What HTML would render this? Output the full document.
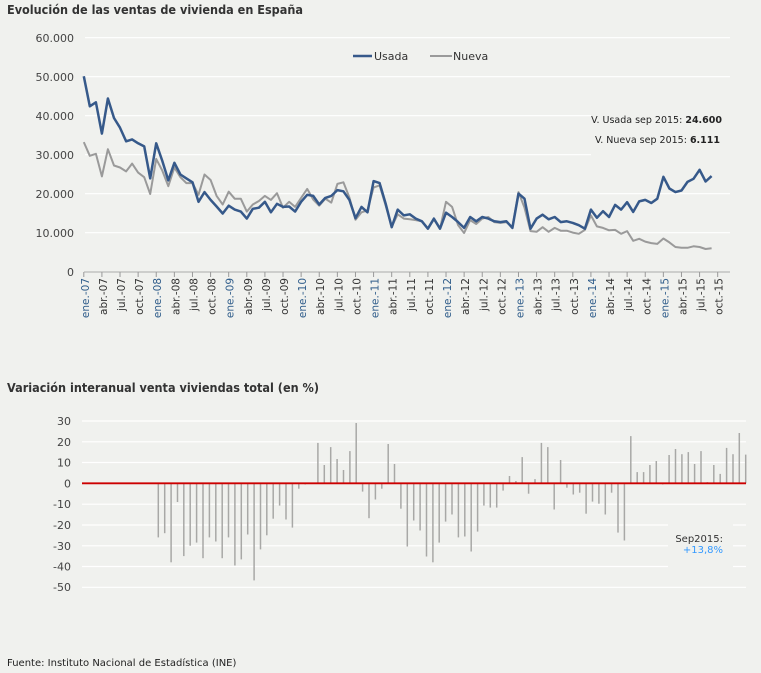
<!DOCTYPE html>
<html><head><meta charset="utf-8"><style>
html,body{margin:0;padding:0;background:#f0f1ee;}
svg{display:block;font-family:"DejaVu Sans","Liberation Sans",sans-serif;}
</style></head><body>
<svg id="s" width="761" height="673" viewBox="0 0 761 673" xmlns="http://www.w3.org/2000/svg">
<rect width="761" height="673" fill="#f0f1ee"/>
<text x="7" y="14" font-size="12" font-weight="bold" fill="#333" textLength="296" lengthAdjust="spacingAndGlyphs">Evolución de las ventas de vivienda en España</text>
<g stroke="#fff" stroke-width="1.2">
<line x1="85" y1="37.7" x2="730" y2="37.7"/>
<line x1="85" y1="76.7" x2="730" y2="76.7"/>
<line x1="85" y1="115.7" x2="591" y2="115.7"/>
<line x1="85" y1="154.7" x2="591" y2="154.7"/>
<line x1="85" y1="193.7" x2="730" y2="193.7"/>
<line x1="85" y1="232.7" x2="730" y2="232.7"/>
</g>
<line x1="84" y1="272" x2="730" y2="272" stroke="#aaa" stroke-width="1"/>
<g font-size="11" fill="#444" text-anchor="end">
<text x="74" y="42">60.000</text><text x="74" y="81">50.000</text><text x="74" y="120">40.000</text>
<text x="74" y="159">30.000</text><text x="74" y="198">20.000</text><text x="74" y="237">10.000</text><text x="74" y="276">0</text>
</g>
<g id="ticks" stroke="#999" stroke-width="1"></g>
<g id="tl" font-size="10.5" text-anchor="end" fill="#333">
<text transform="translate(88.8,278) rotate(-90)" fill="#2e5c8a">ene.-07</text>
<text transform="translate(106.9,278) rotate(-90)">abr.-07</text>
<text transform="translate(125.0,278) rotate(-90)">jul.-07</text>
<text transform="translate(143.1,278) rotate(-90)">oct.-07</text>
<text transform="translate(161.2,278) rotate(-90)" fill="#2e5c8a">ene.-08</text>
<text transform="translate(179.3,278) rotate(-90)">abr.-08</text>
<text transform="translate(197.4,278) rotate(-90)">jul.-08</text>
<text transform="translate(215.6,278) rotate(-90)">oct.-08</text>
<text transform="translate(233.7,278) rotate(-90)" fill="#2e5c8a">ene.-09</text>
<text transform="translate(251.8,278) rotate(-90)">abr.-09</text>
<text transform="translate(269.9,278) rotate(-90)">jul.-09</text>
<text transform="translate(288.0,278) rotate(-90)">oct.-09</text>
<text transform="translate(306.1,278) rotate(-90)" fill="#2e5c8a">ene.-10</text>
<text transform="translate(324.2,278) rotate(-90)">abr.-10</text>
<text transform="translate(342.4,278) rotate(-90)">jul.-10</text>
<text transform="translate(360.5,278) rotate(-90)">oct.-10</text>
<text transform="translate(378.6,278) rotate(-90)" fill="#2e5c8a">ene.-11</text>
<text transform="translate(396.7,278) rotate(-90)">abr.-11</text>
<text transform="translate(414.8,278) rotate(-90)">jul.-11</text>
<text transform="translate(432.9,278) rotate(-90)">oct.-11</text>
<text transform="translate(451.0,278) rotate(-90)" fill="#2e5c8a">ene.-12</text>
<text transform="translate(469.1,278) rotate(-90)">abr.-12</text>
<text transform="translate(487.3,278) rotate(-90)">jul.-12</text>
<text transform="translate(505.4,278) rotate(-90)">oct.-12</text>
<text transform="translate(523.5,278) rotate(-90)" fill="#2e5c8a">ene.-13</text>
<text transform="translate(541.6,278) rotate(-90)">abr.-13</text>
<text transform="translate(559.7,278) rotate(-90)">jul.-13</text>
<text transform="translate(577.8,278) rotate(-90)">oct.-13</text>
<text transform="translate(595.9,278) rotate(-90)" fill="#2e5c8a">ene.-14</text>
<text transform="translate(614.1,278) rotate(-90)">abr.-14</text>
<text transform="translate(632.2,278) rotate(-90)">jul.-14</text>
<text transform="translate(650.3,278) rotate(-90)">oct.-14</text>
<text transform="translate(668.4,278) rotate(-90)" fill="#2e5c8a">ene.-15</text>
<text transform="translate(686.5,278) rotate(-90)">abr.-15</text>
<text transform="translate(704.6,278) rotate(-90)">jul.-15</text>
<text transform="translate(722.7,278) rotate(-90)">oct.-15</text>
</g>
<polyline id="nueva" fill="none" stroke="#9a9a9a" stroke-width="2" stroke-linejoin="round"/>
<polyline id="usada" fill="none" stroke="#36598a" stroke-width="2.5" stroke-linejoin="round"/>
<line x1="353" y1="56" x2="372" y2="56" stroke="#36598a" stroke-width="2.5"/>
<text x="374" y="60" font-size="11" fill="#333">Usada</text>
<line x1="430" y1="56" x2="452" y2="56" stroke="#9a9a9a" stroke-width="2"/>
<text x="453" y="60" font-size="11" fill="#333">Nueva</text>
<text x="722" y="123" font-size="9.5" fill="#222" text-anchor="end">V. Usada sep 2015: <tspan font-weight="bold">24.600</tspan></text>
<text x="720" y="143" font-size="9.5" fill="#222" text-anchor="end">V. Nueva sep 2015: <tspan font-weight="bold">6.111</tspan></text>

<text x="7" y="392" font-size="12" font-weight="bold" fill="#333" textLength="312" lengthAdjust="spacingAndGlyphs">Variación interanual venta viviendas total (en %)</text>
<g stroke="#fff" stroke-width="1.2">
<line x1="82" y1="421" x2="746" y2="421"/>
<line x1="82" y1="441.8" x2="746" y2="441.8"/>
<line x1="82" y1="462.5" x2="746" y2="462.5"/>
<line x1="82" y1="504.2" x2="746" y2="504.2"/>
<line x1="82" y1="525" x2="668" y2="525"/><line x1="733" y1="525" x2="746" y2="525"/>
<line x1="82" y1="545.8" x2="668" y2="545.8"/><line x1="733" y1="545.8" x2="746" y2="545.8"/>
<line x1="82" y1="566.5" x2="668" y2="566.5"/><line x1="733" y1="566.5" x2="746" y2="566.5"/>
<line x1="82" y1="587.3" x2="746" y2="587.3"/>
</g>
<g font-size="11" fill="#444" text-anchor="end">
<text x="71" y="425">30</text><text x="71" y="446">20</text><text x="71" y="466.5">10</text><text x="71" y="487.5">0</text>
<text x="71" y="508">-10</text><text x="71" y="529">-20</text><text x="71" y="550">-30</text><text x="71" y="570.5">-40</text><text x="71" y="591">-50</text>
</g>
<g id="bars" stroke="#a8a8a6" stroke-width="1.5"></g>
<line x1="82" y1="483.3" x2="746" y2="483.3" stroke="#cc0000" stroke-width="1.8"/>
<text x="723" y="542" font-size="10" fill="#333" text-anchor="end">Sep2015:</text>
<text x="723" y="553" font-size="10" fill="#3399ff" text-anchor="end">+13,8%</text>
<text x="7" y="666" font-size="10" fill="#222">Fuente: Instituto Nacional de Estadística (INE)</text>
</svg>
<script>
var U=[50.2,42.5,43.5,35.5,44.5,39.5,37,33.5,34,33,32.2,24,33,28.5,23.5,28,25,24,23,18,20.5,18.5,16.8,15,17,16,15.5,13.7,16.2,16.5,18,15.3,17.5,16.7,16.8,15.5,18,19.8,19.5,17.3,19,19.5,21,20.7,18.5,13.8,16.7,15.3,23.3,22.8,17.5,11.5,16,14.5,14.8,13.7,13,11.1,13.7,11.1,15.2,14.1,12.8,11.3,14.1,13,14.1,13.7,13,12.8,13,11.3,20.1,18.8,11.1,13.7,14.7,13.5,14.1,12.8,13,12.6,12,11.1,16,13.9,15.6,14.1,17.2,16,17.9,15.4,18.1,18.5,17.7,18.8,24.4,21.4,20.5,20.9,23.1,23.9,26.2,23.2,24.6];
var N=[33.3,29.8,30.3,24.5,31.5,27.3,26.8,25.8,27.8,25.5,24.3,20,29,26,22,26.8,24.3,22.8,22.8,19.8,25,23.6,19.5,17.3,20.6,18.8,18.8,15.5,17.3,18.2,19.5,18.5,20.2,16.5,18,16.7,19,21.3,18.6,17,18.8,17.8,22.6,23,19.1,13.4,15.3,15.8,21.7,22.2,17,11.6,14.8,13.7,13.5,13.3,13,11.1,13.5,11.1,18,16.7,12,10,13.3,12.3,13.7,14.1,12.8,12.6,12.8,11.5,20.5,16.5,10.5,10.3,11.5,10.3,11.3,10.6,10.6,10.1,9.8,10.8,14.5,11.7,11.3,10.7,10.8,9.8,10.5,8,8.5,7.8,7.4,7.2,8.6,7.6,6.4,6.2,6.2,6.6,6.4,5.9,6.111];
function pts(a){return a.map(function(v,i){return (83.8+i*6.037).toFixed(1)+","+(272-v*3.9).toFixed(1)}).join(" ");}
document.getElementById("usada").setAttribute("points",pts(U));
document.getElementById("nueva").setAttribute("points",pts(N));
var t=document.getElementById("ticks"),h="";
for(var m=0;m<=105;m+=3){var x=83.8+m*6.037;h+='<line x1="'+x+'" y1="272" x2="'+x+'" y2="277"/>';}
t.innerHTML=h;
var B=[-26,-24,-38,-9,-35,-30,-28.5,-36,-26,-28,-36,-26,-39.5,-36.6,-24.6,-46.7,-31.8,-25,-17,-10.7,-17.4,-21.3,-2.6,-0.6,0,19.4,8.8,17.4,11.7,6.4,15.5,29,-4,-16.8,-7.8,-2.6,18.9,9.3,-12.2,-30.4,-17.9,-22.7,-35.2,-38,-28.5,-18.4,-15,-26,-25.6,-32.8,-23.2,-10.7,-11.7,-11.7,-3.5,3.5,1.1,12.6,-5,2,19.4,17.4,-12.6,11.2,-2.1,-5.4,-4.5,-14.6,-8.8,-9.8,-15,-4.5,-23.7,-27.5,22.7,5.4,5.4,8.8,10.7,-0.6,13.6,16.5,14,15,9.3,15.5,0.6,8.8,4.5,17,14,24.2,13.8];
var b=document.getElementById("bars"),g="";
for(var i=0;i<B.length;i++){var x=(158.3+i*6.385).toFixed(1);g+='<line x1="'+x+'" y1="483.3" x2="'+x+'" y2="'+(483.3-B[i]*2.08).toFixed(1)+'"/>';}
b.innerHTML=g;
</script>
</body></html>
